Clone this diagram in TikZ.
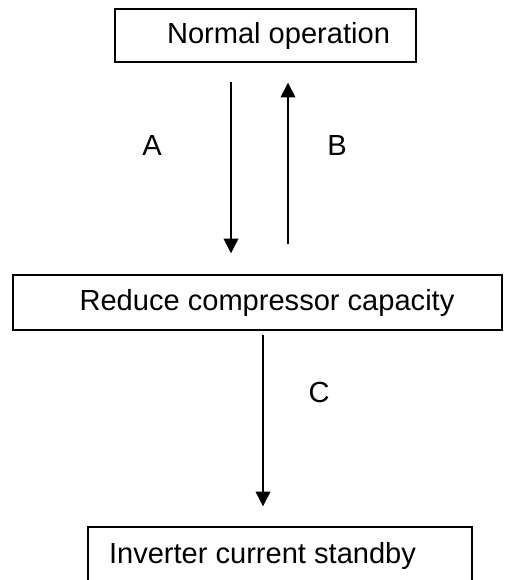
\documentclass[tikz,border=0pt]{standalone}
\usepackage{fontspec}
\setmainfont{Liberation Sans}
\usetikzlibrary{arrows.meta}

\begin{document}
\begin{tikzpicture}[x=0.75pt,y=-0.75pt,line width=1.1pt,>={Triangle[width=11pt,length=11pt]},
  state/.style={draw,inner sep=0pt,font=\fontsize{21.8}{26}\selectfont},
  lbl/.style={font=\fontsize{21.8}{26}\selectfont}]
\useasboundingbox (0,0) rectangle (507,580);
% ---------- states ----------
\node[state,minimum width=225.75pt,minimum height=39.75pt] (normal) at (265.5,35.5)
  {\hspace*{19.5pt}Normal operation};
\node[state,minimum width=366.75pt,minimum height=41.25pt] (reduce) at (257.5,302.5)
  {\hspace*{14.25pt}Reduce compressor capacity};
\node[state,minimum width=288pt,minimum height=42.75pt] (standby) at (280,555.5)
  {Inverter current standby\hspace*{26.25pt}};
% arrow columns
\coordinate (colA) at (231,0);
\coordinate (colB) at (288,0);
\coordinate (colC) at (263,0);
% ---------- transitions ----------
\draw[->,shorten <=14.25pt,shorten >=15.75pt] (normal.south -| colA) -- (reduce.north -| colA);
\draw[->,shorten <=22.5pt,shorten >=15pt] (reduce.north -| colB) -- (normal.south -| colB);
\draw[->,shorten <=3pt,shorten >=15pt] (reduce.south -| colC) -- (standby.north -| colC);
\node[lbl] (labA) at (152,146) {A};
\node[lbl] (labB) at (337,146) {B};
\node[lbl] (labC) at (319,392) {C};
\end{tikzpicture}
\end{document}
